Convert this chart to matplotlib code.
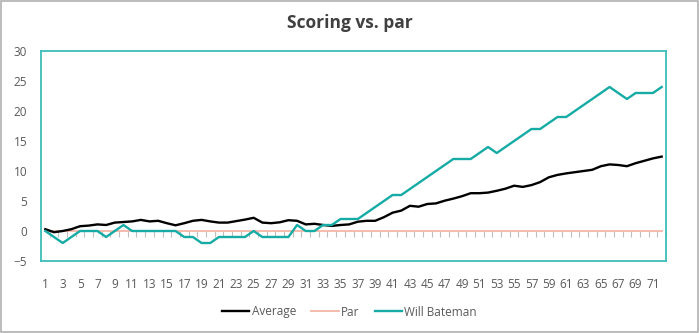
import matplotlib
matplotlib.use("Agg")
import matplotlib.pyplot as plt
from matplotlib.patches import Rectangle

plt.rcParams['font.family'] = ['Open Sans', 'DejaVu Sans']

# holes 1..72
holes = list(range(1, 73))

average = [0.3, -0.2, 0.0, 0.3, 0.8, 0.9, 1.1, 1.0, 1.4, 1.5,
           1.6, 1.85, 1.6, 1.7, 1.3, 0.95, 1.3, 1.7, 1.85, 1.6,
           1.4, 1.4, 1.65, 1.9, 2.2, 1.4, 1.3, 1.45, 1.8, 1.7,
           1.1, 1.2, 1.0, 0.85, 1.0, 1.1, 1.55, 1.7, 1.7, 2.3,
           3.05, 3.4, 4.2, 4.05, 4.5, 4.6, 5.05, 5.4, 5.8, 6.3,
           6.3, 6.4, 6.7, 7.05, 7.55, 7.35, 7.65, 8.15, 8.95, 9.35,
           9.6, 9.8, 10.0, 10.2, 10.8, 11.1, 11.0, 10.8, 11.3, 11.7,
           12.1, 12.4]

par = [0] * 72

will_bateman = [0, -1, -2, -1, 0, 0, 0, -1, 0, 1,
                0, 0, 0, 0, 0, 0, -1, -1, -2, -2,
                -1, -1, -1, -1, 0, -1, -1, -1, -1, 1,
                0, 0, 1, 1, 2, 2, 2, 3, 4, 5,
                6, 6, 7, 8, 9, 10, 11, 12, 12, 12,
                13, 14, 13, 14, 15, 16, 17, 17, 18, 19,
                19, 20, 21, 22, 23, 24, 23, 22, 23, 23,
                23, 24]

x_labels = [str(h) for h in holes[::2]]
y_ticks = [-5, 0, 5, 10, 15, 20, 25, 30]

teal = '#17ABA6'
label_col = '#595959'

fig = plt.figure(figsize=(6.99, 3.33), dpi=100)
ax = fig.add_axes([41/699, 1 - 261/333, 625/699, 210/333])

ax.plot(holes, average, color='black', lw=1.7, label='Average', zorder=4)
ax.plot(holes, par, color='#F4B6A6', lw=1.3, label='Par', zorder=3)
ax.plot(holes, will_bateman, color=teal, lw=1.7, label='Will Bateman', zorder=5)

ax.set_xlim(0.5, 72.5)
ax.set_ylim(-5, 30)
ax.set_yticks(y_ticks)
ax.set_xticks(holes[::2])
ax.set_xticklabels(x_labels)
ax.tick_params(axis='both', length=0, labelsize=8.5, labelcolor=label_col)
ax.tick_params(axis='y', pad=10)
ax.tick_params(axis='x', pad=12)

for s in ax.spines.values():
    s.set_color('#3DBDB8')
    s.set_linewidth(1.3)

# small category tick marks hanging from the zero line
zero_frac = 5 / 35
bounds = [h + 0.5 for h in range(0, 73)]
sec = ax.secondary_xaxis(zero_frac)
sec.set_xticks(bounds, labels=[''] * len(bounds))
sec.tick_params(axis='x', direction='out', length=4, width=0.8, color='#BFBFBF')
sec.spines['bottom'].set_visible(False)
sec.spines['top'].set_visible(False)

fig.text(0.5, 1 - 23/333, 'Scoring vs. par', ha='center', va='center',
         fontsize=12.5, fontweight='bold', color='#404040')

fig.legend(loc='center', bbox_to_anchor=(0.5, 1 - 312/333), ncol=3, frameon=False,
           fontsize=8.5, labelcolor=label_col, handlelength=2.3,
           handletextpad=0.2, columnspacing=1.3)

fig.add_artist(Rectangle((0.5/699, 1.5/333), 697.5/699, 331/333,
                         transform=fig.transFigure, fill=False,
                         ec='#B0B0B0', lw=1.2))

fig.savefig('out.png', dpi=100)
